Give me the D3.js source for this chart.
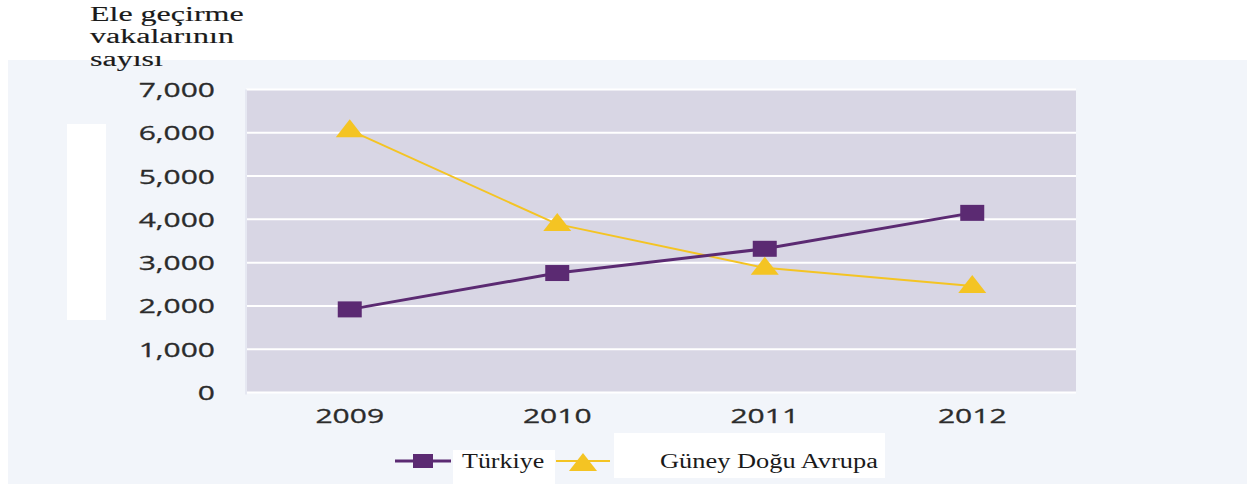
<!DOCTYPE html>
<html>
<head>
<meta charset="utf-8">
<script src="https://cdn.jsdelivr.net/npm/d3@7"></script>
<style>
  body { margin: 0; background: #ffffff; }
  svg { display: block; }
</style>
</head>
<body>
<svg width="1247" height="484"></svg>
<script>
// data
var years = ["2009", "2010", "2011", "2012"];
var turkiye = [1920, 2760, 3320, 4150];
var guneyDogu = [6060, 3890, 2880, 2460];
var yTicks = [0, 1000, 2000, 3000, 4000, 5000, 6000, 7000];
var titleLines = ["Ele geçirme", "vakalarının", "sayısı"];
var legendNames = ["Türkiye", "Güney Doğu Avrupa"];

var purple = "#5b2a72";
var yellow = "#f4c423";

var svg = d3.select("svg");

// panel background
svg.append("rect")
    .attr("x", 8).attr("y", 60)
    .attr("width", 1239).attr("height", 424)
    .attr("fill", "#f2f5fa");

// white block left of axis
svg.append("rect")
    .attr("x", 67).attr("y", 124)
    .attr("width", 39).attr("height", 196)
    .attr("fill", "#ffffff");

var plotLeft = 246, plotRight = 1076, plotTop = 89.5, plotBottom = 392.5;

var x = d3.scaleBand().domain(years).range([plotLeft, plotRight]);
var y = d3.scaleLinear().domain([0, 7000]).range([plotBottom, plotTop]);
var cx = function(i) { return x(years[i]) + x.bandwidth() / 2; };

// plot area
svg.append("rect")
    .attr("x", plotLeft).attr("y", plotTop)
    .attr("width", plotRight - plotLeft).attr("height", plotBottom - plotTop)
    .attr("fill", "#d8d6e4");

// gridlines
svg.append("g")
    .selectAll("line")
    .data(yTicks)
    .enter().append("line")
    .attr("x1", plotLeft).attr("x2", plotRight)
    .attr("y1", function(d) { return y(d); })
    .attr("y2", function(d) { return y(d); })
    .attr("stroke", "#ffffff")
    .attr("stroke-width", 2);

svg.append("line")
    .attr("x1", plotLeft).attr("x2", plotLeft)
    .attr("y1", plotTop).attr("y2", plotBottom + 2)
    .attr("stroke", "#e6e8f2").attr("stroke-width", 2);

// y axis
var yAxis = svg.append("g")
    .attr("transform", "translate(215,0)")
    .call(d3.axisLeft(y).tickValues(yTicks).tickSize(0).tickPadding(0).tickFormat(d3.format(",")));
yAxis.select(".domain").remove();
yAxis.selectAll("text")
    .attr("x", 0)
    .attr("dy", "0.35em")
    .attr("transform", "scale(1.5,1)")
    .style("font-family", "'Open Sans', sans-serif")
    .style("font-size", "20px")
    .style("fill", "#2b2b2b")
    .style("stroke", "#2b2b2b")
    .style("stroke-width", "0.3px");

// x axis
var xAxis = svg.append("g")
    .attr("transform", "translate(0,423)")
    .call(d3.axisBottom(x).tickSize(0).tickPadding(0));
xAxis.select(".domain").remove();
xAxis.selectAll("text")
    .attr("y", 0)
    .attr("dy", "0")
    .attr("transform", "scale(1.5,1)")
    .style("font-family", "'Open Sans', sans-serif")
    .style("font-size", "20px")
    .style("fill", "#2b2b2b")
    .style("stroke", "#2b2b2b")
    .style("stroke-width", "0.3px");

// lines
var line = d3.line()
    .x(function(d, i) { return cx(i); })
    .y(function(d) { return y(d); });

svg.append("path")
    .datum(guneyDogu)
    .attr("d", line)
    .attr("fill", "none")
    .attr("stroke", yellow)
    .attr("stroke-width", 2);

svg.append("path")
    .datum(turkiye)
    .attr("d", line)
    .attr("fill", "none")
    .attr("stroke", purple)
    .attr("stroke-width", 3);

var triangle = "M0,-9L14,9L-14,9Z";

svg.append("g")
    .selectAll("path")
    .data(guneyDogu)
    .enter().append("path")
    .attr("d", triangle)
    .attr("transform", function(d, i) {
        return "translate(" + cx(i) + "," + (y(d) - 2) + ")";
    })
    .attr("fill", yellow);

svg.append("g")
    .selectAll("rect")
    .data(turkiye)
    .enter().append("rect")
    .attr("x", function(d, i) { return cx(i) - 12; })
    .attr("y", function(d) { return y(d) - 8; })
    .attr("width", 24).attr("height", 16)
    .attr("fill", purple);

// title
svg.append("g")
    .attr("transform", "translate(90,0) scale(1.6,1)")
    .selectAll("text")
    .data(titleLines)
    .enter().append("text")
    .attr("x", 0)
    .attr("y", function(d, i) { return 21 + i * 22.5; })
    .text(function(d) { return d; })
    .style("font-family", "'Liberation Serif', serif")
    .style("font-size", "20px")
    .style("fill", "#1a1a1a")
    .style("stroke", "#1a1a1a")
    .style("stroke-width", "0.15px");

// legend
svg.append("rect").attr("x", 453).attr("y", 450).attr("width", 102).attr("height", 34).attr("fill", "#ffffff");
svg.append("rect").attr("x", 614).attr("y", 433).attr("width", 271).attr("height", 45).attr("fill", "#ffffff");

svg.append("line").attr("x1", 395).attr("x2", 451).attr("y1", 461).attr("y2", 461)
    .attr("stroke", purple).attr("stroke-width", 3);
svg.append("rect").attr("x", 413).attr("y", 454).attr("width", 20).attr("height", 14).attr("fill", purple);

svg.append("line").attr("x1", 556).attr("x2", 610).attr("y1", 461).attr("y2", 461)
    .attr("stroke", yellow).attr("stroke-width", 2);
svg.append("path").attr("d", triangle).attr("transform", "translate(583,462)").attr("fill", yellow);

svg.append("text")
    .attr("transform", "translate(462,468) scale(1.3,1)")
    .text(legendNames[0])
    .style("font-family", "'Liberation Serif', serif")
    .style("font-size", "20px")
    .style("fill", "#1a1a1a");
svg.append("text")
    .attr("transform", "translate(660,468) scale(1.32,1)")
    .text(legendNames[1])
    .style("font-family", "'Liberation Serif', serif")
    .style("font-size", "20px")
    .style("fill", "#1a1a1a");
</script>
</body>
</html>
